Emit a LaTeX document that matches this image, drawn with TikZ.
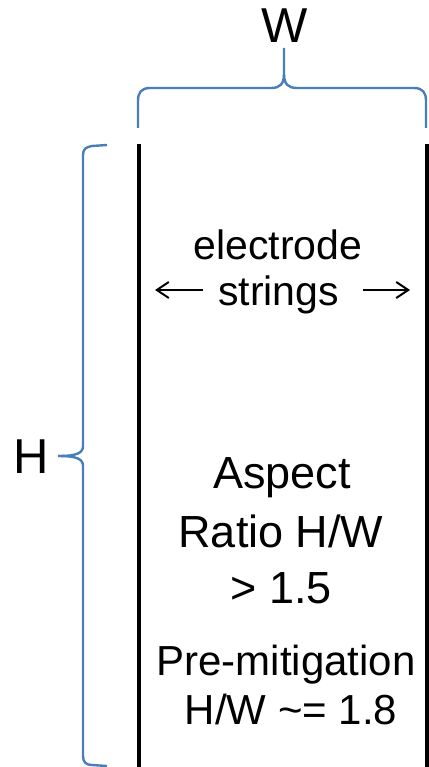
\documentclass[tikz,border=0pt]{standalone}
\usepackage{fontspec}
\setmainfont{Liberation Sans}
\usetikzlibrary{arrows.meta}
\definecolor{braceblue}{RGB}{74,126,187}
\tikzset{
  wall/.style={line width=3.5pt, black},
  bracepath/.style={line width=2.4pt, braceblue, line join=round},
  lbl/.style={anchor=base, inner sep=0pt, text=black},
  strarrow/.style={line width=2pt, -{Straight Barb[length=12pt,width=16pt,line width=2pt]}},
}
\begin{document}
\begin{tikzpicture}[x=1pt,y=-1pt]
\useasboundingbox (0,0) rectangle (428,767);
% walls
\coordinate (lt) at (139,144);
\coordinate (lb) at (139,767);
\coordinate (rt) at (427,144);
\coordinate (rb) at (427,767);
\draw[wall] (lt) -- (lb);
\draw[wall] (rt) -- (rb);
% top brace (W)
\draw[bracepath] (138,128) -- (138,101) .. controls (138,93) and (141,88) .. (150,88)
  -- (271,88) .. controls (280,88) and (284,84) .. (284,74) -- (284,48);
\draw[bracepath] (284,74) .. controls (284,84) and (288,88) .. (297,88)
  -- (414,88) .. controls (423,88) and (426,93) .. (426,101) -- (426,128);
% left brace (H)
\draw[bracepath] (107,145) -- (92,146) .. controls (86,147) and (83,149) .. (83,155)
  -- (83,446) .. controls (83,453) and (77,456) .. (58,456);
\draw[bracepath] (58,456) .. controls (77,456) and (83,459) .. (83,466)
  -- (83,756) .. controls (83,762) and (86,765) .. (92,765) -- (107,766);
% labels
\node[lbl, font=\fontsize{49}{58}\selectfont] (W) at (285,43) {W};
\node[lbl, font=\fontsize{49}{58}\selectfont] (H) at (31.5,473) {H};
\node[lbl, font=\fontsize{41}{48}\selectfont] (el) at (278,259) {electrode};
\node[lbl, font=\fontsize{41}{48}\selectfont] (st) at (278.5,305) {strings};
\coordinate (la0) at (203,290);
\coordinate (la1) at (155,290);
\coordinate (ra0) at (363,290);
\coordinate (ra1) at (410,290);
\draw[strarrow] (la0) -- (la1);
\draw[strarrow] (ra0) -- (ra1);
\node[lbl, font=\fontsize{45}{54}\selectfont] (a1) at (282,488) {Aspect};
\node[lbl, font=\fontsize{45}{54}\selectfont] (a2) at (281,547) {Ratio H/W};
\node[lbl, font=\fontsize{45}{54}\selectfont] (a3) at (281,603) {> 1.5};
\node[lbl, font=\fontsize{42}{48}\selectfont] (p1) at (286,675) {Pre-mitigation};
\node[lbl, font=\fontsize{42}{48}\selectfont] (p2) at (291,724) {H/W \textasciitilde= 1.8};
\end{tikzpicture}
\end{document}
